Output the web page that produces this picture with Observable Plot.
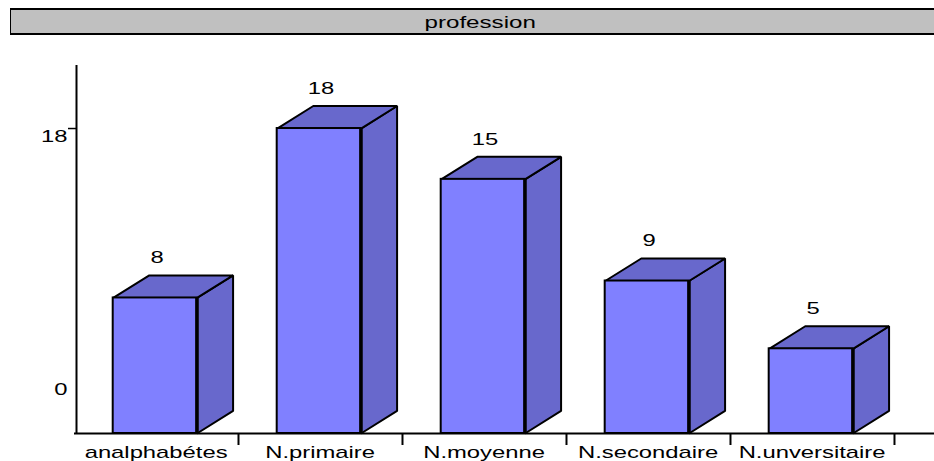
<!DOCTYPE html>
<html>
<head>
<meta charset="utf-8">
<style>
  html, body { margin: 0; padding: 0; background: #fff; }
  body { width: 934px; height: 461px; overflow: hidden; font-family: "Liberation Sans", Arial, sans-serif; color: #000; }
  #banner {
    box-sizing: border-box; margin: 8px 0 0 10px; width: 924px; height: 27px;
    background: #c0c0c0; border: solid #000; border-width: 2px 0 2px 1px;
    font-size: 17px; line-height: 25px; text-align: center;
  }
  #banner span { display: inline-block; transform: scaleX(1.42); margin-left: 15px; }
  svg { display: block; }
</style>
<script src="https://cdn.jsdelivr.net/npm/d3@7"></script>
<script src="https://cdn.jsdelivr.net/npm/@observablehq/plot@0.6"></script>
</head>
<body>
<div id="banner"><span>profession</span></div>
<div id="chart"></div>
<script>
const categories = ["analphabétes", "N.primaire", "N.moyenne", "N.secondaire", "N.unversitaire"];
const counts = [8, 18, 15, 9, 5];
const yTick = [18];
const yOrigin = [0];
const boundaries = [1, 2, 3, 4, 5];

const barStart = 0.236, barEnd = 0.747;  // front face inside each category slot
const depthX = 0.22, depthY = 1.33;      // oblique offset of the back faces

const bars = categories.map((name, i) => ({name, value: counts[i], x1: i + barStart, x2: i + barEnd}));

// Side and top faces as closed polygons, one row per vertex.
const sides = bars.flatMap((b) => [
  [b.x2, 0], [b.x2 + depthX, depthY], [b.x2 + depthX, b.value + depthY], [b.x2, b.value]
].map(([x, y]) => ({face: b.name, x, y})));
const tops = bars.flatMap((b) => [
  [b.x1, b.value], [b.x1 + depthX, b.value + depthY], [b.x2 + depthX, b.value + depthY], [b.x2, b.value]
].map(([x, y]) => ({face: b.name, x, y})));

const faceColor = "#6868cc", frontColor = "#8080ff";
const polygon = (rows) => Plot.line(rows, {
  x: "x", y: "y", z: "face", curve: "linear-closed",
  fill: faceColor, stroke: "#000", strokeWidth: 2, strokeLinejoin: "miter"
});

const chart = Plot.plot({
  width: 934, height: 426,
  marginLeft: 74, marginRight: 0, marginTop: 30, marginBottom: 28,
  style: {fontFamily: "'Liberation Sans', Arial, sans-serif", fontSize: "17px", color: "#000", background: "#fff", overflow: "visible"},
  x: {type: "linear", domain: [0, 5.244], axis: null},
  y: {type: "linear", domain: [0, 21.72], axis: null},
  marks: [
    polygon(sides),
    polygon(tops),
    Plot.rect(bars, {x1: "x1", x2: "x2", y1: 0, y2: "value", fill: frontColor, stroke: "#000", strokeWidth: 2}),
    Plot.ruleX(bars, {x: "x2", y1: 0, y2: "value", stroke: "#000", strokeWidth: 3.5}),
    Plot.ruleX([0], {stroke: "#000", strokeWidth: 2, dx: 2}),
    Plot.ruleY([0], {stroke: "#000", strokeWidth: 2}),
    Plot.axisX(boundaries, {anchor: "bottom", tickSize: 12, tickFormat: () => "", stroke: "#000", strokeWidth: 2, tickPadding: 0}),
    Plot.axisY(yTick, {anchor: "left", tickSize: 8, tickPadding: 0, dx: 2, stroke: "#000", strokeWidth: 1.5, tickFormat: () => ""}),
    Plot.text(yTick, {x: 0, y: (d) => d, dx: -7, dy: 8, textAnchor: "end", text: (d) => `${d}`, fill: "#000"}),
    Plot.text(yOrigin, {x: 0, y: (d) => d, dx: -7, dy: -44, textAnchor: "end", text: (d) => `${d}`, fill: "#000"}),
    Plot.text(bars, {x: (d) => (d.x1 + d.x2) / 2, y: "value", dx: 2, dy: -40, text: (d) => `${d.value}`, fill: "#000"}),
    Plot.text(bars, {x: (d) => (d.x1 + d.x2) / 2 + 0.006, y: 0, dy: 19, text: "name", fill: "#000"})
  ]
});

document.getElementById("chart").append(chart);

// The face is set wide: widen every label while keeping its anchor.
chart.querySelectorAll("text").forEach((t) => {
  const len = t.getComputedTextLength();
  if (len > 0) {
    t.setAttribute("textLength", len * 1.4);
    t.setAttribute("lengthAdjust", "spacingAndGlyphs");
  }
});
</script>
</body>
</html>
